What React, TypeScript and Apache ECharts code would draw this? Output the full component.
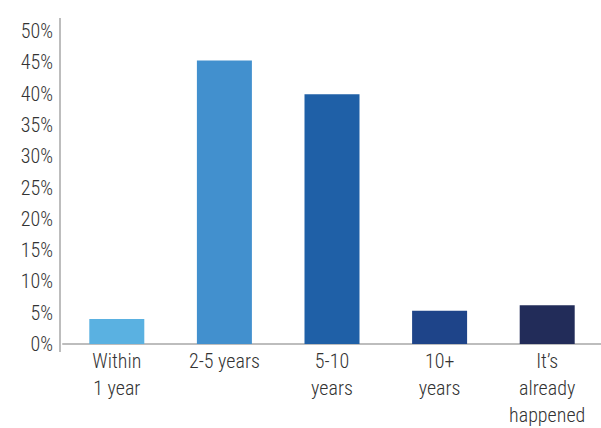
import React, { useEffect, useRef } from "react";
import * as echarts from "echarts";

const categories = ["Within\n1 year", "2-5 years", "5-10\nyears", "10+\nyears", "It\u2019s\nalready\nhappened"];
const shares = [4.0, 45.3, 39.9, 5.3, 6.2];
const barColors = ["#5AB1E1", "#4290CE", "#1F60A7", "#1E4489", "#222C59"];

const FONT = "'Roboto Condensed', 'Liberation Sans Narrow', sans-serif";
const AXIS_GREY = "#BDBDBD";

export default function App() {
  const ref = useRef<HTMLDivElement>(null);

  useEffect(() => {
    if (!ref.current) return;
    const chart = echarts.init(ref.current, null, { renderer: "svg" });
    chart.setOption({
      animation: false,
      backgroundColor: "#ffffff",
      grid: { left: 63, width: 545, top: 31, height: 320, containLabel: false },
      xAxis: {
        type: "category",
        data: categories,
        axisLine: { show: true, lineStyle: { color: AXIS_GREY, width: 2 } },
        axisTick: { show: false },
        axisLabel: {
          interval: 0,
          margin: 3,
          fontFamily: FONT,
          fontWeight: 300,
          fontSize: 20,
          lineHeight: 27,
          color: "#333333",
        },
      },
      yAxis: {
        type: "value",
        min: 0,
        max: 50,
        interval: 5,
        axisLine: { show: false },
        axisTick: { show: false },
        splitLine: { show: false },
        axisLabel: {
          margin: 10,
          fontFamily: FONT,
          fontWeight: 300,
          fontSize: 20,
          color: "#333333",
          padding: [0, 0, 7, 0],
          formatter: "{value}%",
        },
      },
      // vertical axis rule, running a little above the 50% tick
      graphic: [
        {
          type: "line",
          shape: { x1: 60, y1: 18, x2: 60, y2: 352 },
          style: { stroke: AXIS_GREY, lineWidth: 2 },
          z: 10,
        },
      ],
      series: [
        {
          type: "bar",
          barWidth: 55,
          data: shares.map((v, i) => ({ value: v, itemStyle: { color: barColors[i] } })),
        },
      ],
    });
    return () => chart.dispose();
  }, []);

  return (
    <div
      ref={ref}
      style={{ position: "fixed", left: 0, top: 0, width: 601, height: 428, background: "#fff" }}
    />
  );
}
